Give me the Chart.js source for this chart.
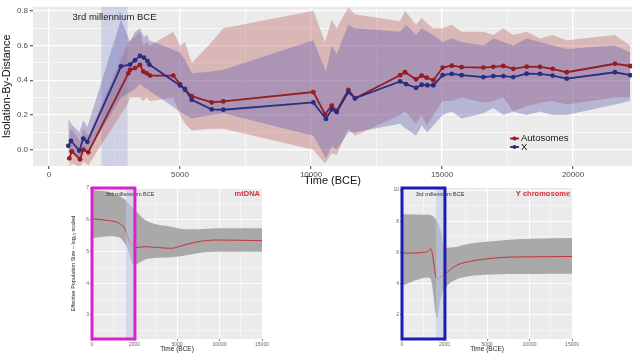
<!DOCTYPE html>
<html>
<head>
<meta charset="utf-8">
<script src="https://cdn.jsdelivr.net/npm/chart.js@4.4.0/dist/chart.umd.min.js"></script>
<style>
  body { margin: 0; width: 640px; height: 360px; overflow: hidden; background: #fff; position: relative; }
  .pane { position: absolute; }
</style>
</head>
<body>
<div class="pane" style="left:0;top:0;width:640px;height:190px"><canvas id="ibd"></canvas></div>
<div class="pane" style="left:70px;top:184px;width:200px;height:170px"><canvas id="mt"></canvas></div>
<div class="pane" style="left:380px;top:184px;width:200px;height:170px"><canvas id="ychr"></canvas></div>
<script>
// ---- top panel: isolation by distance over time ----
const autoTime = [776, 866, 1183, 1310, 1500, 3027, 3092, 3280, 3473, 3600, 3728, 3855, 4745, 5000, 5190, 5447, 6210, 6654,
  10090, 10535, 10790, 10980, 11425, 11680, 13400, 13590, 14010, 14225, 14415, 14670, 15027, 15370, 15750, 16580,
  16960, 17340, 17720, 18230, 18740, 19225, 19760, 21600, 22180];
const autoIbd = [-0.05, -0.01, -0.055, 0.0, -0.015, 0.44, 0.46, 0.47, 0.488, 0.45, 0.44, 0.427, 0.427, 0.378, 0.345, 0.308, 0.272, 0.278,
  0.332, 0.204, 0.254, 0.223, 0.345, 0.296, 0.429, 0.446, 0.405, 0.427, 0.415, 0.4, 0.473, 0.484, 0.475, 0.473,
  0.477, 0.482, 0.466, 0.478, 0.477, 0.466, 0.446, 0.495, 0.482];
const autoLo = [-0.1, -0.08, -0.1, -0.07, -0.09, 0.27, 0.3, 0.3, 0.3, 0.28, 0.3, 0.28, 0.3, 0.2, 0.15, 0.11, 0.12, 0.12,
  0.0, -0.08, -0.02, -0.03, 0.12, 0.08, 0.2, 0.22, 0.15, 0.2, 0.14, 0.2, 0.28, 0.28, 0.3, 0.27,
  0.28, 0.3, 0.22, 0.25, 0.27, 0.28, 0.26, 0.3, 0.3];
const autoHi = [0.1, 0.12, 0.05, 0.12, 0.08, 0.62, 0.63, 0.65, 0.68, 0.6, 0.62, 0.6, 0.68, 0.6, 0.62, 0.5, 0.62, 0.7,
  0.8, 0.62, 0.75, 0.7, 0.82, 0.78, 0.74, 0.8, 0.72, 0.76, 0.73, 0.7, 0.7, 0.72, 0.68, 0.68,
  0.66, 0.7, 0.66, 0.68, 0.64, 0.66, 0.63, 0.66, 0.6];

const xTime = [737, 840, 1157, 1310, 1463, 2748, 3092, 3282, 3473, 3626, 3760, 3830, 5000, 5190, 5447, 6210, 6654,
  10090, 10570, 10790, 10980, 11425, 11680, 13400, 13630, 14010, 14225, 14440, 14670, 15027, 15370, 15750, 16580,
  16960, 17340, 17720, 18230, 18740, 19225, 19760, 21600, 22180];
const xIbd = [0.022, 0.05, -0.005, 0.064, 0.045, 0.48, 0.49, 0.515, 0.54, 0.53, 0.51, 0.49, 0.37, 0.35, 0.287, 0.232, 0.23,
  0.272, 0.177, 0.232, 0.217, 0.332, 0.296, 0.393, 0.378, 0.356, 0.374, 0.371, 0.371, 0.429, 0.437, 0.429, 0.418,
  0.424, 0.424, 0.418, 0.438, 0.437, 0.427, 0.409, 0.446, 0.429];
const xLo = [-0.03, 0.0, -0.05, 0.0, -0.02, 0.3, 0.33, 0.35, 0.38, 0.36, 0.35, 0.34, 0.22, 0.2, 0.18, 0.2, 0.21,
  0.08, -0.05, 0.02, 0.0, 0.1, 0.1, 0.15, 0.12, 0.08, 0.14, 0.1, 0.14, 0.2, 0.22, 0.18, 0.21,
  0.24, 0.2, 0.22, 0.2, 0.22, 0.2, 0.2, 0.26, 0.28];
const xHi = [0.18, 0.15, 0.1, 0.17, 0.13, 0.75, 0.62, 0.68, 0.7, 0.65, 0.66, 0.63, 0.56, 0.52, 0.44, 0.45, 0.46,
  0.63, 0.45, 0.6, 0.55, 0.72, 0.7, 0.68, 0.72, 0.66, 0.7, 0.68, 0.66, 0.62, 0.64, 0.62, 0.6,
  0.64, 0.62, 0.6, 0.64, 0.62, 0.6, 0.58, 0.6, 0.56];

const ibdTicksX = [0, 2500, 5000, 7500, 10000, 12500, 15000, 17500, 20000];
const ibdTicksY = [0, 0.1, 0.2, 0.3, 0.4, 0.5, 0.6, 0.7, 0.8];
const eraBand = [2000, 3000];          // 3rd millennium BCE (top panel)

// ---- bottom panels: skyline Ne curves ----
const timeKnots = [0, 2000, 5000, 10000, 15000];   // equally spaced on the axis

const mtTime = [0, 818, 1273, 1577, 1727, 1909, 2049, 2747, 3674, 4600, 5939, 7560, 9600, 15000];
const mtMedian = [6.03, 5.97, 5.89, 5.68, 5.36, 5.21, 5.12, 5.15, 5.12, 5.10, 5.21, 5.31, 5.36, 5.34];
const mtUpper = [6.94, 6.87, 6.75, 6.62, 6.5, 6.38, 6.3, 5.99, 5.84, 5.78, 5.7, 5.7, 5.73, 5.73];
const mtLower = [5.42, 5.48, 5.45, 5.22, 5.0, 4.62, 4.6, 4.75, 4.8, 4.82, 4.87, 4.95, 4.99, 4.99];
const mtTicksY = [2.5, 3, 3.5, 4, 4.5, 5, 5.5, 6, 6.5, 7];

const yTime = [0, 1195, 1350, 1650, 1805, 2051, 2783, 3756, 4977, 7614, 10660, 15000];
const yMedian = [5.95, 6.04, 6.23, 4.29, 4.42, 4.63, 5.14, 5.42, 5.59, 5.70, 5.72, 5.74];
const yUpper = [8.45, 8.42, 8.40, 8.0, 7.45, 6.3, 6.35, 6.55, 6.68, 6.82, 6.87, 6.92];
const yLower = [3.87, 4.4, 4.3, 1.8, 2.97, 3.7, 4.25, 4.48, 4.57, 4.61, 4.62, 4.63];
const yChrTicksY = [1, 2, 3, 4, 5, 6, 7, 8, 9, 10];

const skyEra = [1600, 2050];
const skyBox = [0, 2030];

const RED = '#971B22';
const BLUE = '#2C2D80';
const FONT = "'Liberation Sans', Arial, sans-serif";

const pts = (xs, ys) => xs.map((x, i) => ({ x: x, y: ys[i] }));

function timeToPos(t) {
  for (let i = 1; i < timeKnots.length; i++) {
    if (t <= timeKnots[i]) return i - 1 + (t - timeKnots[i - 1]) / (timeKnots[i] - timeKnots[i - 1]);
  }
  return timeKnots.length - 1;
}

// grey ggplot panel
const panelBg = {
  id: 'panelBg',
  beforeDraw(chart) {
    const a = chart.chartArea, ctx = chart.ctx;
    ctx.save();
    ctx.fillStyle = '#EBEBEB';
    ctx.fillRect(a.left, a.top, a.right - a.left, a.bottom - a.top);
    ctx.restore();
  }
};

const ibdDecor = {
  id: 'ibdDecor',
  beforeDatasetsDraw(chart) {
    const a = chart.chartArea, ctx = chart.ctx, x = chart.scales.x;
    ctx.save();
    ctx.fillStyle = 'rgba(160,170,215,0.4)';
    const x0 = x.getPixelForValue(eraBand[0]), x1 = x.getPixelForValue(eraBand[1]);
    ctx.fillRect(x0, a.top, x1 - x0, a.bottom - a.top);
    ctx.restore();
  },
  afterDraw(chart) {
    const ctx = chart.ctx, x = chart.scales.x, y = chart.scales.y;
    ctx.save();
    ctx.fillStyle = '#222';
    ctx.font = '9.5px ' + FONT;
    ctx.textAlign = 'center';
    ctx.textBaseline = 'middle';
    ctx.fillText('3rd millennium BCE', x.getPixelForValue((eraBand[0] + eraBand[1]) / 2), y.getPixelForValue(0.76));
    // legend
    const items = [['Autosomes', RED], ['X', BLUE]];
    ctx.textAlign = 'left';
    ctx.font = '9.5px ' + FONT;
    items.forEach((it, i) => {
      const ly = 138.5 + i * 8.5;
      ctx.strokeStyle = it[1];
      ctx.lineWidth = 1.8;
      ctx.beginPath(); ctx.moveTo(510, ly); ctx.lineTo(519, ly); ctx.stroke();
      ctx.fillStyle = it[1];
      ctx.beginPath(); ctx.arc(514.5, ly, 2.1, 0, Math.PI * 2); ctx.fill();
      ctx.fillStyle = '#111';
      ctx.fillText(it[0], 521, ly);
    });
    ctx.restore();
  }
};

const band = (data, color, fill) => ({
  data: data, fill: fill, backgroundColor: color, borderColor: 'transparent',
  borderWidth: 0, pointRadius: 0, tension: 0
});

new Chart(document.getElementById('ibd'), {
  type: 'line',
  data: {
    datasets: [
      Object.assign(band(pts(autoTime, autoLo), 'transparent', false), { order: 3 }),
      Object.assign(band(pts(autoTime, autoHi), 'rgba(188,100,100,0.38)', '-1'), { order: 3 }),
      Object.assign(band(pts(xTime, xLo), 'transparent', false), { order: 2 }),
      Object.assign(band(pts(xTime, xHi), 'rgba(100,95,175,0.38)', '-1'), { order: 2 }),
      { label: 'Autosomes', data: pts(autoTime, autoIbd), borderColor: RED, backgroundColor: RED,
        borderWidth: 1.8, pointRadius: 2.4, pointBorderWidth: 0, fill: false, order: 1 },
      { label: 'X', data: pts(xTime, xIbd), borderColor: BLUE, backgroundColor: BLUE,
        borderWidth: 1.8, pointRadius: 2.4, pointBorderWidth: 0, fill: false, order: 0 }
    ]
  },
  options: {
    responsive: true,
    maintainAspectRatio: false,
    animation: false,
    events: [],
    layout: { padding: { left: 0, right: 8, top: 0, bottom: 0 } },
    plugins: { legend: { display: false }, tooltip: { enabled: false } },
    scales: {
      x: {
        type: 'linear', min: -611, max: 22252,
        afterBuildTicks: s => { s.ticks = ibdTicksX.map(v => ({ value: v })); },
        afterFit: s => { s.height = 24; },
        border: { display: false },
        grid: {
          color: '#fff',
          lineWidth: c => (c.tick && c.tick.value % 5000 === 0) ? 1.3 : 0.6,
          tickLength: 3,
          tickColor: c => (c.tick && c.tick.value % 5000 === 0) ? '#666' : 'transparent'
        },
        ticks: {
          autoSkip: false, maxRotation: 0, padding: 1, color: '#4D4D4D',
          font: { size: 8, family: FONT },
          callback: v => v % 5000 === 0 ? String(v) : ''
        },
        title: { display: true, text: 'Time (BCE)', color: '#111', font: { size: 11, family: FONT }, padding: { top: 0, bottom: 2 } }
      },
      y: {
        min: -0.094, max: 0.823,
        afterBuildTicks: s => { s.ticks = ibdTicksY.map(v => ({ value: v })); },
        afterFit: s => { s.width = 33; },
        border: { display: false },
        grid: {
          color: '#fff',
          lineWidth: c => (c.tick && Math.round(c.tick.value * 10) % 2 === 0) ? 1.3 : 0.6,
          tickLength: 3,
          tickColor: c => (c.tick && Math.round(c.tick.value * 10) % 2 === 0) ? '#666' : 'transparent'
        },
        ticks: {
          autoSkip: false, padding: 2, color: '#4D4D4D',
          font: { size: 8, family: FONT },
          callback: v => Math.round(v * 10) % 2 === 0 ? v.toFixed(1) : ''
        },
        title: { display: true, text: 'Isolation-By-Distance', color: '#111', font: { size: 11, family: FONT }, padding: { top: 0, bottom: 1 } }
      }
    }
  },
  plugins: [panelBg, ibdDecor]
});

// ---- skyline panels ----
function makeSkyline(id, cfg) {
  const deco = {
    id: 'skyDeco',
    afterDatasetsDraw(chart) {
      const a = chart.chartArea, ctx = chart.ctx, x = chart.scales.x;
      const e0 = x.getPixelForValue(timeToPos(skyEra[0])), e1 = x.getPixelForValue(timeToPos(skyEra[1]));
      ctx.save();
      ctx.fillStyle = 'rgba(195,198,235,0.55)';
      ctx.fillRect(e0, a.top, e1 - e0, a.bottom - a.top);
      ctx.restore();
    },
    afterDraw(chart) {
      const a = chart.chartArea, ctx = chart.ctx, x = chart.scales.x;
      ctx.save();
      ctx.fillStyle = '#333';
      ctx.font = '5.5px ' + FONT;
      ctx.textAlign = 'center';
      ctx.textBaseline = 'middle';
      ctx.fillText('3rd millennium BCE', a.left + 38, a.top + 6);
      ctx.fillStyle = '#D22F3C';
      ctx.font = 'bold 7.5px ' + FONT;
      ctx.textAlign = 'right';
      ctx.fillText(cfg.name, a.right - 2, a.top + 6);
      const b0 = x.getPixelForValue(timeToPos(skyBox[0])), b1 = x.getPixelForValue(timeToPos(skyBox[1]));
      ctx.strokeStyle = cfg.boxColor;
      ctx.lineWidth = 3;
      ctx.strokeRect(b0, a.top, b1 - b0, a.bottom - a.top);
      ctx.restore();
    }
  };
  const isMajorY = v => cfg.majorY.includes(v);
  return new Chart(document.getElementById(id), {
    type: 'line',
    data: {
      datasets: [
        { data: pts(cfg.time.map(timeToPos), cfg.lower), fill: false, borderColor: 'transparent', borderWidth: 0,
          pointRadius: 0, cubicInterpolationMode: 'monotone', order: 2 },
        { data: pts(cfg.time.map(timeToPos), cfg.upper), fill: '-1', backgroundColor: '#A9A9A9', borderColor: 'transparent',
          borderWidth: 0, pointRadius: 0, cubicInterpolationMode: 'monotone', order: 2 },
        { data: pts(cfg.time.map(timeToPos), cfg.median), fill: false, borderColor: '#C8323C', borderWidth: 1,
          pointRadius: 0, cubicInterpolationMode: 'monotone', order: 1 }
      ]
    },
    options: {
      responsive: true,
      maintainAspectRatio: false,
      animation: false,
      events: [],
      layout: { padding: { left: 0, right: cfg.padRight, top: 4, bottom: 0 } },
      plugins: { legend: { display: false }, tooltip: { enabled: false } },
      scales: {
        x: {
          type: 'linear', min: 0, max: timeKnots.length - 1,
          afterBuildTicks: s => { s.ticks = [0, 0.5, 1, 1.5, 2, 2.5, 3, 3.5, 4].map(v => ({ value: v })); },
          afterFit: s => { s.height = 15; },
          border: { display: false },
          grid: {
            color: '#fff',
            lineWidth: c => (c.tick && Number.isInteger(c.tick.value)) ? 0.9 : 0.45,
            tickLength: 2,
            tickColor: c => (c.tick && Number.isInteger(c.tick.value)) ? '#777' : 'transparent'
          },
          ticks: {
            autoSkip: false, maxRotation: 0, padding: 1, color: '#666',
            font: { size: 5, family: FONT },
            callback: v => Number.isInteger(v) ? String(timeKnots[v]) : ''
          },
          title: { display: true, text: 'Time (BCE)', color: '#222', font: { size: 6.5, family: FONT }, padding: { top: 0, bottom: 1 } }
        },
        y: {
          min: cfg.yMin, max: cfg.yMax,
          afterBuildTicks: s => { s.ticks = cfg.ticksY.map(v => ({ value: v })); },
          afterFit: s => { s.width = 22; },
          border: { display: false },
          grid: {
            color: '#fff',
            lineWidth: c => (c.tick && isMajorY(c.tick.value)) ? 0.9 : 0.45,
            tickLength: 2,
            tickColor: c => (c.tick && isMajorY(c.tick.value)) ? '#777' : 'transparent'
          },
          ticks: {
            autoSkip: false, padding: 1, color: '#666',
            font: { size: 5, family: FONT },
            callback: v => isMajorY(v) ? String(v) : ''
          },
          title: { display: cfg.yTitle !== '', text: cfg.yTitle, color: '#222', font: { size: 5.5, family: FONT }, padding: { top: 0, bottom: 1 } }
        }
      }
    },
    plugins: [panelBg, deco]
  });
}

makeSkyline('mt', {
  name: 'mtDNA', boxColor: '#DC22C4', padRight: 8,
  time: mtTime, median: mtMedian, upper: mtUpper, lower: mtLower,
  yMin: 2.24, yMax: 7.0, ticksY: mtTicksY, majorY: [3, 4, 5, 6, 7],
  yTitle: 'Effective Population Size \u2013 log\u2081\u2080 scaled'
});

makeSkyline('ychr', {
  name: 'Y chromosome', boxColor: '#1B1DB4', padRight: 6,
  time: yTime, median: yMedian, upper: yUpper, lower: yLower,
  yMin: 0.45, yMax: 10.13, ticksY: yChrTicksY, majorY: [2, 4, 6, 8, 10],
  yTitle: ''
});
</script>
</body>
</html>
